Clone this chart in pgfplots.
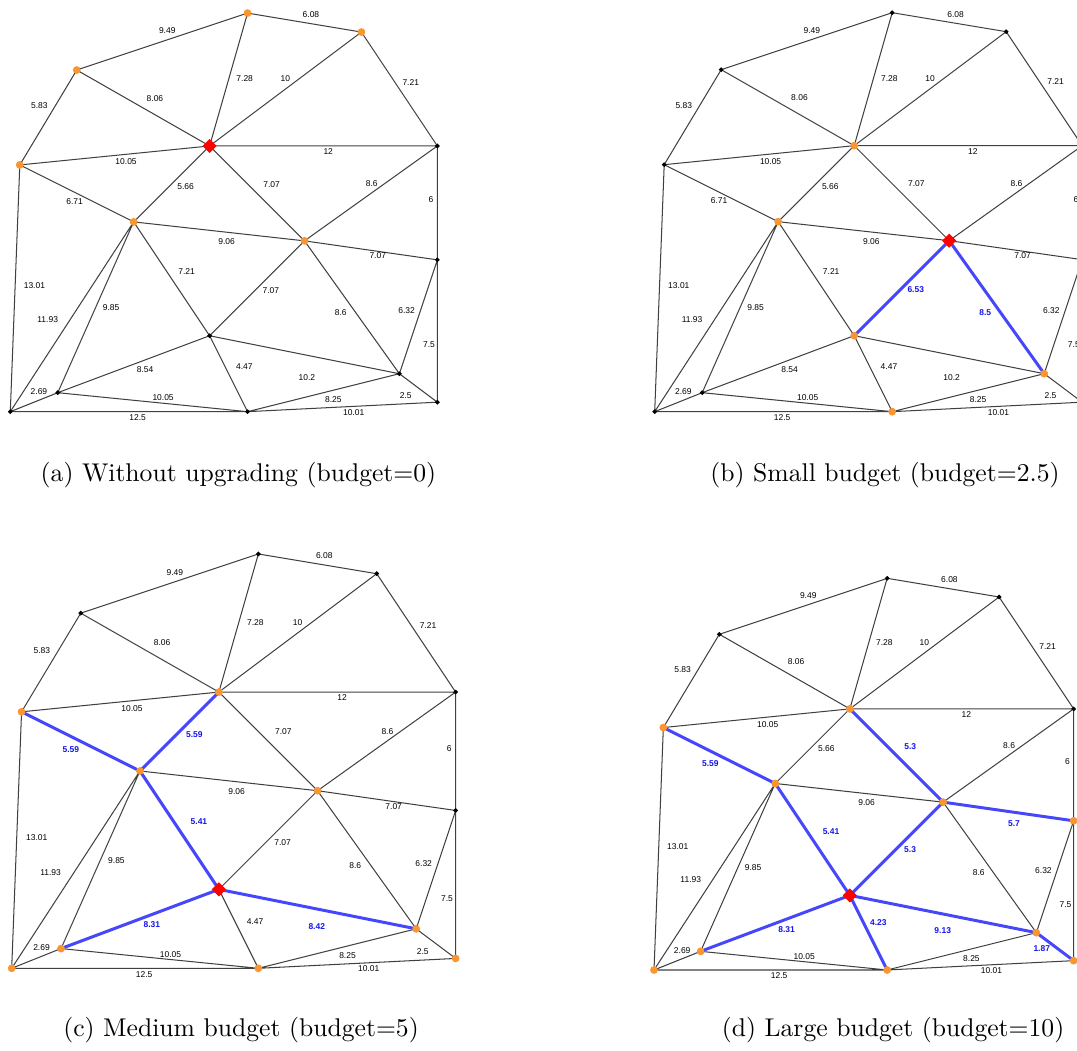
\documentclass[border=0pt]{standalone}
\usepackage{fontspec}
\newfontfamily\labfont{Liberation Sans}
\usepackage{pgfplots}
\pgfplotsset{compat=1.18}
\usepackage{pgfplotstable}
\definecolor{nodeorange}{RGB}{250,150,50}
\definecolor{edgeblue}{RGB}{70,70,250}
\definecolor{labblue}{RGB}{20,20,235}

\pgfplotstableread{
x y
3.5 18
0.5 13
nan nan
12.5 21
3.5 18
nan nan
12.5 21
18.5 20
nan nan
18.5 20
22.5 14
nan nan
10.5 14
3.5 18
nan nan
10.5 14
12.5 21
nan nan
10.5 14
18.5 20
nan nan
10.5 14
0.5 13
nan nan
10.5 14
22.5 14
nan nan
10.5 14
6.5 10
nan nan
10.5 14
15.5 9
nan nan
22.5 14
15.5 9
nan nan
22.5 14
22.5 8
nan nan
0.5 13
6.5 10
nan nan
6.5 10
15.5 9
nan nan
15.5 9
22.5 8
nan nan
0.5 13
0 0
nan nan
6.5 10
0 0
nan nan
6.5 10
2.5 1
nan nan
6.5 10
10.5 4
nan nan
15.5 9
10.5 4
nan nan
15.5 9
20.5 2
nan nan
22.5 8
20.5 2
nan nan
10.5 4
2.5 1
nan nan
10.5 4
12.5 0
nan nan
10.5 4
20.5 2
nan nan
2.5 1
0 0
nan nan
2.5 1
12.5 0
nan nan
0 0
12.5 0
nan nan
12.5 0
20.5 2
nan nan
20.5 2
22.5 0.5
nan nan
12.5 0
22.5 0.5
nan nan
22.5 8
22.5 0.5
}\edges

\pgfplotstableread{
x y a b c d
8.27 20.08 9.49 9.49 9.49 9.49
15.84 20.91 6.08 6.08 6.08 6.08
1.53 16.11 5.83 5.83 5.83 5.83
7.62 16.52 8.06 8.06 8.06 8.06
12.35 17.54 7.28 7.28 7.28 7.28
14.49 17.54 10 10 10 10
21.1 17.36 7.21 7.21 7.21 7.21
16.75 13.71 12 12 12 12
6.1 13.18 10.05 10.05 10.05 10.05
9.24 11.85 5.66 5.66 {} 5.66
13.77 11.99 7.07 7.07 7.07 {}
19.04 12.02 8.6 8.6 8.6 8.6
22.17 11.16 6 6 6 6
3.39 11.09 6.71 6.71 {} {}
11.4 8.95 9.06 9.06 9.06 9.06
19.36 8.21 7.07 7.07 7.07 {}
9.29 7.4 7.21 7.21 {} {}
1.27 6.64 13.01 13.01 13.01 13.01
13.73 6.36 7.07 {} 7.07 {}
5.31 5.48 9.85 9.85 9.85 9.85
17.41 5.22 8.6 {} 8.6 8.6
20.88 5.32 6.32 6.32 6.32 6.32
1.97 4.87 11.93 11.93 11.93 11.93
22.06 3.52 7.5 7.5 7.5 7.5
7.1 2.21 8.54 8.54 {} {}
12.33 2.37 4.47 4.47 4.47 {}
15.63 1.81 10.2 10.2 {} {}
1.51 1.04 2.69 2.69 2.69 2.69
8.05 0.72 10.05 10.05 10.05 10.05
17.02 0.63 8.25 8.25 8.25 8.25
20.83 0.83 2.5 2.5 2.5 {}
6.71 -0.3 12.5 12.5 12.5 12.5
18.09 -0.03 10.01 10.01 10.01 10.01
}\labs

\pgfplotsset{
  panel/.style={hide axis, xmin=-1, xmax=24, ymin=-1, ymax=22, clip=false,
    anchor=south west, scale only axis, unbounded coords=jump},
  edge/.style={black!75, line width=0.4pt, mark=none},
  bedge/.style={edgeblue, line width=1.17pt, mark=none},
  labels/.style={only marks, mark=none, nodes near coords, point meta=explicit symbolic,
    nodes near coords align={center},
    every node near coord/.append style={anchor=center, inner sep=0pt, text=black,
      font=\labfont\fontsize{3.3}{4}\selectfont}},
  blabels/.style={only marks, mark=none, nodes near coords, point meta=explicit symbolic,
    nodes near coords align={center},
    every node near coord/.append style={anchor=center, inner sep=0pt, text=labblue,
      font=\labfont\bfseries\fontsize{3.3}{4}\selectfont}},
  bnode/.style={only marks, mark=*, mark size=0.68pt, black},
  onode/.style={only marks, mark=*, mark size=1.3pt, nodeorange},
  rnode/.style={only marks, mark=square*, mark size=1.74pt, red, mark options={rotate=45}},
}

\begin{document}
\begin{tikzpicture}
\useasboundingbox (0,0) rectangle (420.03pt,409.5pt);
\clip (0,0) rectangle (420.03pt,409.5pt);

% (a)
\begin{axis}[panel, x=7.402pt, y=7.402pt, at={(-3.385pt,241.54pt)}]
\addplot[edge] table {\edges};
\addplot[labels] table[meta=a] {\labs};
\addplot[bnode] coordinates {(0,0) (12.5,0) (22.5,0.5) (2.5,1) (20.5,2) (10.5,4) (22.5,8) (22.5,14)};
\addplot[onode] coordinates {(15.5,9) (6.5,10) (0.5,13) (3.5,18) (18.5,20) (12.5,21)};
\addplot[rnode] coordinates {(10.5,14)};
\end{axis}

% (b)
\begin{axis}[panel, x=7.41pt, y=7.41pt, at={(247.92pt,241.53pt)}]
\addplot[edge] table {\edges};
\addplot[bedge] coordinates {(10.5,4) (15.5,9) (20.5,2)};
\addplot[labels] table[meta=b] {\labs};
\addplot[blabels] table[meta=l, row sep=\\] {x y l\\ 13.74 6.4 6.53\\ 17.4 5.23 8.5\\};
\addplot[bnode] coordinates {(0,0) (2.5,1) (0.5,13) (3.5,18) (18.5,20) (12.5,21) (22.5,0.5) (22.5,8) (22.5,14)};
\addplot[onode] coordinates {(12.5,0) (20.5,2) (10.5,4) (6.5,10) (10.5,14)};
\addplot[rnode] coordinates {(15.5,9)};
\end{axis}

% (c)
\begin{axis}[panel, x=7.695pt, y=7.695pt, at={(-3.132pt,24.165pt)}]
\addplot[edge] table {\edges};
\addplot[bedge] coordinates {(0.5,13) (6.5,10) (10.5,14)};
\addplot[bedge] coordinates {(6.5,10) (10.5,4) (2.5,1)};
\addplot[bedge] coordinates {(10.5,4) (20.5,2)};
\addplot[labels] table[meta=c] {\labs};
\addplot[blabels] table[meta=l, row sep=\\] {x y l\\ 3.0 11.08 5.59\\ 9.26 11.86 5.59\\ 9.49 7.43 5.41\\ 7.1 2.21 8.31\\ 15.46 2.11 8.42\\};
\addplot[bnode] coordinates {(22.5,8) (22.5,14) (3.5,18) (18.5,20) (12.5,21)};
\addplot[onode] coordinates {(0,0) (12.5,0) (22.5,0.5) (2.5,1) (20.5,2) (15.5,9) (6.5,10) (0.5,13) (10.5,14)};
\addplot[rnode] coordinates {(10.5,4)};
\end{axis}

% (d)
\begin{axis}[panel, x=7.2735pt, y=7.2735pt, at={(247.79pt,23.93pt)}]
\addplot[edge] table {\edges};
\addplot[bedge] coordinates {(0.5,13) (6.5,10) (10.5,4) (2.5,1)};
\addplot[bedge] coordinates {(10.5,14) (15.5,9) (22.5,8)};
\addplot[bedge] coordinates {(15.5,9) (10.5,4) (12.5,0)};
\addplot[bedge] coordinates {(10.5,4) (20.5,2) (22.5,0.5)};
\addplot[labels] table[meta=d] {\labs};
\addplot[blabels] table[meta=l, row sep=\\] {x y l\\ 3.02 11.08 5.59\\ 13.74 11.96 5.3\\ 19.3 7.86 5.7\\ 9.49 7.4 5.41\\ 13.73 6.47 5.3\\ 7.11 2.18 8.31\\ 12.03 2.56 4.23\\ 15.48 2.09 9.13\\ 20.79 1.13 1.87\\};
\addplot[bnode] coordinates {(22.5,14) (3.5,18) (18.5,20) (12.5,21)};
\addplot[onode] coordinates {(0,0) (12.5,0) (22.5,0.5) (2.5,1) (20.5,2) (22.5,8) (15.5,9) (6.5,10) (0.5,13) (10.5,14)};
\addplot[rnode] coordinates {(10.5,4)};
\end{axis}

\node[anchor=base, inner sep=0pt, font=\fontsize{10}{12}\selectfont] at (93.0pt,221.7pt) {(a) Without upgrading (budget=0)};
\node[anchor=base, inner sep=0pt, font=\fontsize{10}{12}\selectfont] at (345.15pt,221.7pt) {(b) Small budget (budget=2.5)};
\node[anchor=base, inner sep=0pt, font=\fontsize{10}{12}\selectfont] at (94.0pt,5.27pt) {(c) Medium budget (budget=5)};
\node[anchor=base, inner sep=0pt, font=\fontsize{10}{12}\selectfont] at (348.3pt,5.27pt) {(d) Large budget (budget=10)};
\end{tikzpicture}
\end{document}
